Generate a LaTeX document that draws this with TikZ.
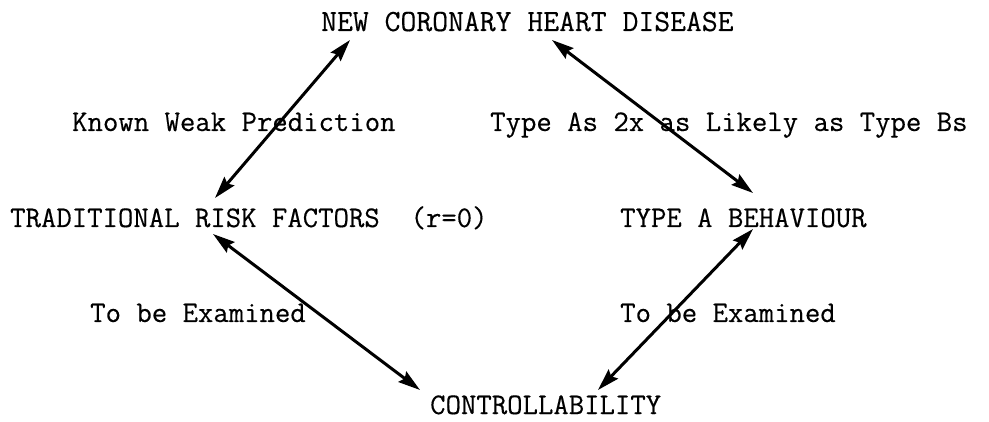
\documentclass[tikz,border=0pt]{standalone}
\usepackage{fontspec}
\newfontfamily\twfont{Latin Modern Mono}[FakeBold=0.35]
\usetikzlibrary{arrows.meta}
\begin{document}
\begin{tikzpicture}[x=1pt,y=-1pt,
  lbl/.style={anchor=base west,inner sep=0pt,font=\twfont\fontsize{29.9}{32}\selectfont},
  link/.style={line width=3pt,{Stealth[length=22pt,width=13pt,inset=3pt]}-{Stealth[length=22pt,width=13pt,inset=3pt]}}]
\useasboundingbox (0,0) rectangle (989,422);
\node[lbl,font=\twfont\fontsize{30.8}{32}\selectfont] (chd) at (321,31) {NEW CORONARY HEART DISEASE};
\node[lbl] (kwp) at (72,131) {Known Weak Prediction};
\node[lbl] (tas) at (490,131) {Type As 2x as Likely as Type Bs};
\node[lbl] (trf) at (10,227) {TRADITIONAL RISK FACTORS\ \ (r=0)};
\node[lbl] (tab) at (620,227) {TYPE A BEHAVIOUR};
\node[lbl] (tbe1) at (90,322) {To be Examined};
\node[lbl] (tbe2) at (620,322) {To be Examined};
\node[lbl] (ctl) at (430,414) {CONTROLLABILITY};
% arrow tips next to the texts
\coordinate (chdL) at (350,40);
\coordinate (chdR) at (552,40);
\coordinate (trfT) at (215,198);
\coordinate (trfB) at (213,234);
\coordinate (tabT) at (753,193);
\coordinate (tabB) at (753,229);
\coordinate (ctlL) at (420,390);
\coordinate (ctlR) at (598,390);
\draw[link] (trfT) -- (chdL);
\draw[link] (chdR) -- (tabT);
\draw[link] (trfB) -- (ctlL);
\draw[link] (tabB) -- (ctlR);
\end{tikzpicture}
\end{document}
